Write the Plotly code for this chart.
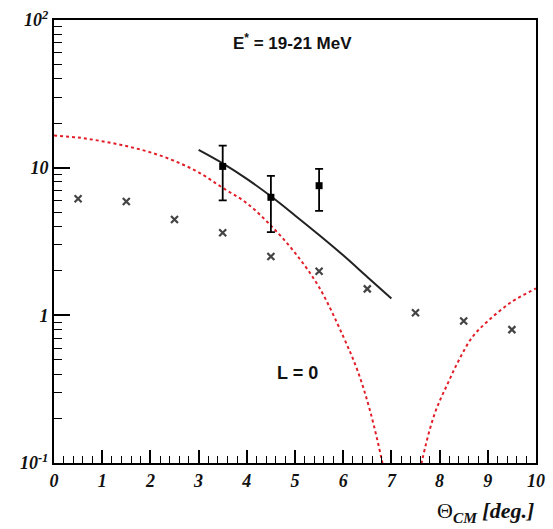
import plotly.graph_objects as go

# Measured cross sections (squares, asymmetric errors)
theta_data = [3.5, 4.5, 5.5]
sigma_data = [10.2, 6.3, 7.55]
err_plus = [3.9, 2.5, 2.25]
err_minus = [4.2, 2.64, 2.45]

# Reference points (crosses)
theta_ref = [0.5, 1.5, 2.5, 3.5, 4.5, 5.5, 6.5, 7.5, 8.5, 9.5]
sigma_ref = [6.15, 5.9, 4.46, 3.62, 2.5, 1.99, 1.51, 1.04, 0.915, 0.80]

# Fitted curve (solid black)
theta_fit = [3.0, 3.5, 4.0, 4.5, 5.0, 5.5, 6.0, 6.5, 7.0]
sigma_fit = [13.2, 10.7, 8.4, 6.4, 4.75, 3.5, 2.55, 1.82, 1.3]

# L = 0 angular distribution (red dotted), two lobes around the minimum
theta_l0 = [0.0, 0.5, 1.0, 1.5, 2.0, 2.5, 3.0, 3.5, 4.0, 4.5, 5.0, 5.5, 6.0, 6.3, 6.55, 6.8, 6.9,
            None,
            7.56, 7.64, 7.9, 8.17, 8.4, 8.68, 9.02, 9.49, 10.0]
sigma_l0 = [16.5, 16.0, 15.1, 14.0, 12.7, 11.1, 9.3, 7.3, 5.75, 4.05, 2.65, 1.55, 0.72, 0.42, 0.23, 0.105, 0.07,
            None,
            0.075, 0.105, 0.217, 0.346, 0.497, 0.713, 0.925, 1.23, 1.52]

x_ticks = list(range(0, 11))
y_tickvals = [0.1, 1, 10, 100]
y_ticktext = ["<b><i>10<sup>-1</sup></i></b>", "<b><i>1</i></b>", "<b><i>10</i></b>", "<b><i>10<sup>2</sup></i></b>"]

fig = go.Figure()

fig.add_trace(go.Scatter(
    x=theta_l0, y=sigma_l0, mode="lines", line_shape="spline",
    line=dict(color="rgb(225,30,40)", width=2, dash="dot"),
    connectgaps=False, showlegend=False))

fig.add_trace(go.Scatter(
    x=theta_fit, y=sigma_fit, mode="lines", line_shape="spline",
    line=dict(color="#222222", width=2), showlegend=False))

fig.add_trace(go.Scatter(
    x=theta_ref, y=sigma_ref, mode="markers",
    marker=dict(symbol="x-thin-open", size=7, color="#444444",
                line=dict(width=2.2, color="#5a5a5a")),
    showlegend=False))

fig.add_trace(go.Scatter(
    x=theta_data, y=sigma_data, mode="markers",
    marker=dict(symbol="square", size=7, color="black"),
    error_y=dict(type="data", symmetric=False, array=err_plus, arrayminus=err_minus,
                 color="black", thickness=1.8, width=4),
    showlegend=False))

fig.add_annotation(x=4.95, y=1.85, xref="x", yref="y",
                   text="<b>E<sup>*</sup> = 19-21 MeV</b>", showarrow=False,
                   font=dict(family="Liberation Sans", size=17, color="#111111"))

fig.add_annotation(x=5.05, y=-0.39, xref="x", yref="y",
                   text="<b>L = 0</b>", showarrow=False,
                   font=dict(family="Liberation Sans", size=18, color="#111111"))

fig.add_annotation(x=1.0, y=-0.075, xref="paper", yref="paper", xanchor="right", yanchor="top",
                   text="\u0398<sub><b><i>CM</i></b></sub><b><i> [deg.]</i></b>", showarrow=False,
                   font=dict(family="Liberation Serif", size=22, color="#111111"))

fig.update_xaxes(
    range=[0, 10], tickvals=x_ticks,
    ticktext=[f"<b><i>{v}</i></b>" for v in x_ticks],
    ticks="inside", ticklen=13, tickwidth=1.5, tickcolor="black",
    minor=dict(ticks="inside", ticklen=7, dtick=0.2, tickwidth=1.2, tickcolor="black"),
    showline=True, linecolor="black", linewidth=2, mirror=True,
    showgrid=False, zeroline=False,
    tickfont=dict(family="Liberation Serif", size=18, color="#111111"))

fig.update_yaxes(
    type="log", range=[-1, 2], tickvals=y_tickvals, ticktext=y_ticktext,
    ticks="inside", ticklen=16, tickwidth=1.5, tickcolor="black",
    minor=dict(ticks="inside", ticklen=8, tickwidth=1.2, tickcolor="black",
               tickvals=[m * 10 ** e for e in (-1, 0, 1) for m in range(2, 10)]),
    showline=True, linecolor="black", linewidth=2, mirror=True,
    showgrid=False, zeroline=False,
    tickfont=dict(family="Liberation Serif", size=18, color="#111111"))

fig.update_layout(
    width=553, height=529,
    margin=dict(l=54, r=8, t=19, b=66),
    paper_bgcolor="white", plot_bgcolor="white")

fig.write_html("out.html")
